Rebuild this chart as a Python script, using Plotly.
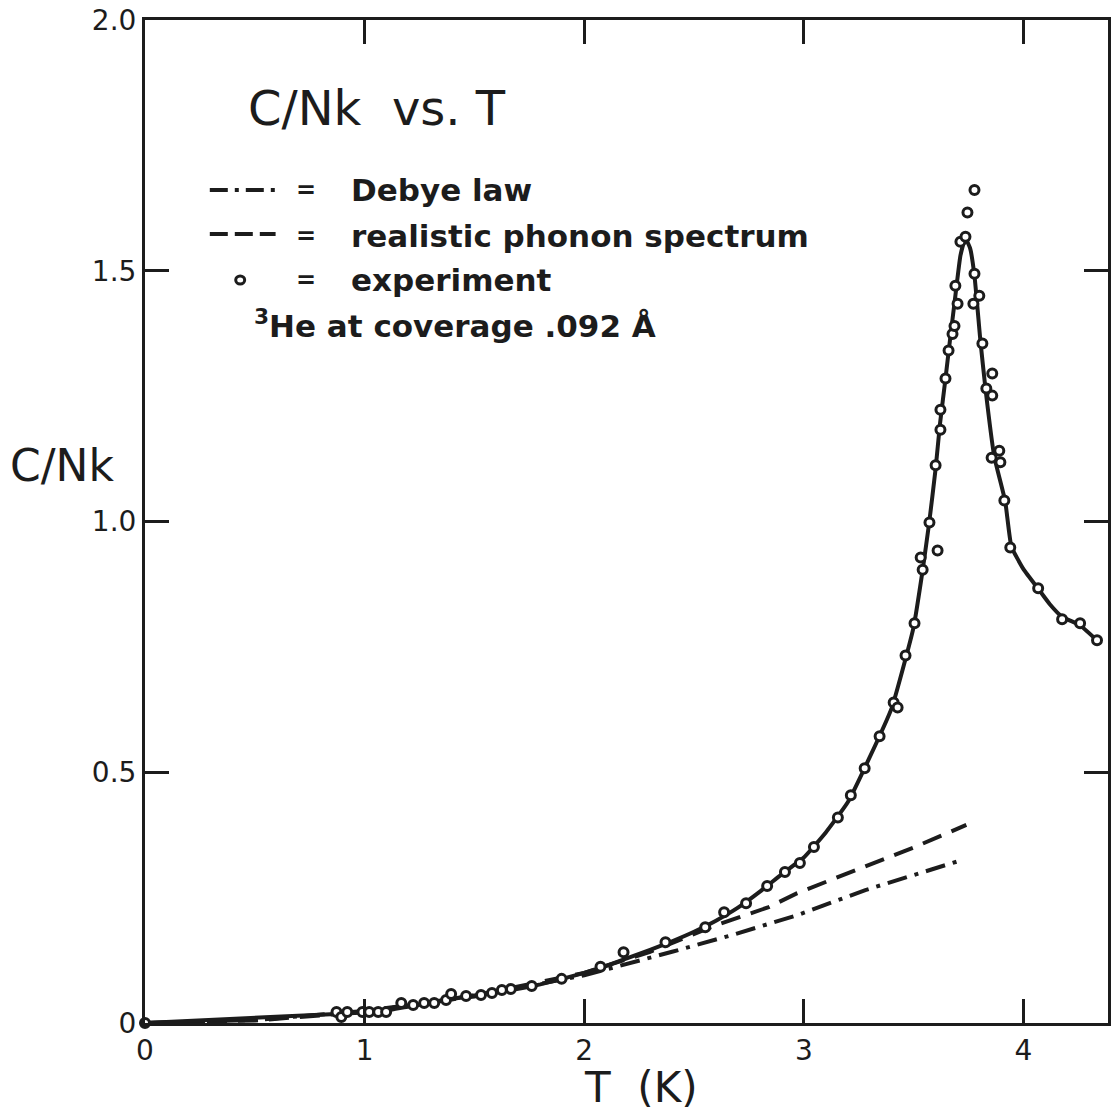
import plotly.graph_objects as go

# ---------------- data ----------------
exp_T = [0.0, 0.872, 0.894, 0.921, 0.990, 1.021, 1.062, 1.098, 1.167, 1.221,
         1.271, 1.317, 1.371, 1.394, 1.462, 1.530, 1.580, 1.625, 1.666, 1.761,
         1.897, 2.074, 2.179, 2.370, 2.551, 2.637, 2.737, 2.833, 2.914, 2.982,
         3.046, 3.155, 3.214, 3.277, 3.345, 3.409, 3.427, 3.463, 3.504, 3.532,
         3.541, 3.572, 3.609, 3.600, 3.622, 3.622, 3.645, 3.659, 3.677, 3.686,
         3.690, 3.700, 3.713, 3.736, 3.745, 3.777, 3.777, 3.772, 3.799, 3.813,
         3.831, 3.858, 3.858, 3.855, 3.890, 3.895, 3.913, 3.940, 4.067, 4.176,
         4.258, 4.335]
exp_C = [0.000, 0.022, 0.012, 0.022, 0.022, 0.022, 0.022, 0.022, 0.040, 0.036,
         0.040, 0.040, 0.046, 0.058, 0.054, 0.056, 0.060, 0.066, 0.068, 0.074,
         0.088, 0.112, 0.141, 0.161, 0.191, 0.221, 0.239, 0.273, 0.301, 0.319,
         0.351, 0.410, 0.454, 0.508, 0.572, 0.639, 0.629, 0.733, 0.797, 0.928,
         0.904, 0.998, 0.942, 1.112, 1.183, 1.223, 1.285, 1.341, 1.374, 1.390,
         1.470, 1.434, 1.558, 1.568, 1.616, 1.661, 1.494, 1.434, 1.450, 1.355,
         1.265, 1.295, 1.251, 1.127, 1.141, 1.118, 1.042, 0.948, 0.867, 0.805,
         0.797, 0.763]

fit_T = [0.0, 0.87, 1.0, 1.1, 1.2, 1.3, 1.4, 1.5, 1.6, 1.7, 1.8, 1.9, 2.0,
         2.1, 2.2, 2.3, 2.4, 2.5, 2.6, 2.7, 2.8, 2.9, 3.0, 3.1, 3.2, 3.3, 3.4,
         3.45, 3.5, 3.54, 3.57, 3.6, 3.62, 3.645, 3.665, 3.69, 3.713, 3.735,
         3.757, 3.777, 3.804, 3.827, 3.867, 3.917, 3.945, 4.0, 4.067, 4.12,
         4.176, 4.258, 4.335]
fit_C = [0.0, 0.018, 0.021, 0.025, 0.033, 0.040, 0.048, 0.055, 0.061, 0.068,
         0.077, 0.088, 0.100, 0.114, 0.130, 0.146, 0.163, 0.182, 0.204, 0.230,
         0.262, 0.297, 0.330, 0.380, 0.440, 0.530, 0.628, 0.705, 0.790, 0.900,
         0.995, 1.105, 1.195, 1.285, 1.360, 1.450, 1.530, 1.565, 1.545, 1.490,
         1.360, 1.265, 1.130, 1.040, 0.950, 0.905, 0.866, 0.835, 0.810, 0.793,
         0.763]

debye_T = [0.0, 0.5, 1.0, 1.5, 2.0, 2.2, 2.4, 2.67, 2.84, 2.97, 3.28, 3.5, 3.72]
debye_C = [0.0, 0.006, 0.024, 0.053, 0.095, 0.118, 0.142, 0.175, 0.198, 0.215,
           0.265, 0.296, 0.325]

real_T = [0.0, 0.5, 1.0, 1.5, 2.0, 2.3, 2.6, 2.84, 2.97, 3.28, 3.5, 3.74]
real_C = [0.0, 0.005, 0.022, 0.055, 0.100, 0.142, 0.195, 0.231, 0.259, 0.311,
          0.350, 0.395]

x_tickvals = [0, 1, 2, 3, 4]
x_ticktext = ["0", "1", "2", "3", "4"]
y_tickvals = [0, 0.5, 1.0, 1.5, 2.0]
y_ticktext = ["0", "0.5", "1.0", "1.5", "2.0"]

# ---------------- layout helpers ----------------
W, H = 1112, 1115
L, R, T, B = 145, 1, 20, 92
PW, PH = W - L - R, H - T - B

def px(x):
    return (x - L) / PW

def py(y):
    return (H - B - y) / PH

INK = "#1c1c1c"
FONT = "DejaVu Sans"

fig = go.Figure()

fig.add_trace(go.Scatter(x=real_T, y=real_C, mode="lines",
                         line=dict(color=INK, width=4, dash="20px,11px"),
                         showlegend=False))
fig.add_trace(go.Scatter(x=debye_T, y=debye_C, mode="lines",
                         line=dict(color=INK, width=4, dash="20px,8px,4px,8px"),
                         showlegend=False))
fig.add_trace(go.Scatter(x=fit_T, y=fit_C, mode="lines",
                         line=dict(color=INK, width=4, shape="spline", smoothing=0.4),
                         showlegend=False))
fig.add_trace(go.Scatter(x=exp_T, y=exp_C, mode="markers",
                         marker=dict(symbol="circle", size=9, color="white",
                                     line=dict(color=INK, width=3)),
                         cliponaxis=False, showlegend=False))

axis_common = dict(showline=True, linecolor=INK, linewidth=3, mirror="ticks",
                   ticks="inside", ticklen=24, tickwidth=3, tickcolor=INK,
                   showgrid=False, zeroline=False,
                   tickfont=dict(family=FONT, size=28, color=INK))

fig.update_xaxes(range=[0, 4.385], tickvals=x_tickvals, ticktext=x_ticktext,
                 **axis_common)
fig.update_yaxes(range=[0, 2.0], tickvals=y_tickvals, ticktext=y_ticktext,
                 **axis_common)

ann = []
ann.append(dict(text="C/Nk  vs. T", x=px(246), y=py(108), xanchor="left",
                yanchor="middle", font=dict(family=FONT, size=48, color=INK)))
legend_rows = [("Debye law", 190), ("realistic phonon spectrum", 236),
               ("experiment", 280)]
for txt, yy in legend_rows:
    ann.append(dict(text="<b>=</b>", x=px(307), y=py(yy), xanchor="center",
                    yanchor="middle", font=dict(family=FONT, size=24, color=INK)))
    ann.append(dict(text="<b>" + txt + "</b>", x=px(350), y=py(yy),
                    xanchor="left", yanchor="middle",
                    font=dict(family=FONT, size=31, color=INK)))
ann.append(dict(text="<b><sup>3</sup>He at coverage .092 Å</b>", x=px(252),
                y=py(324), xanchor="left", yanchor="middle",
                font=dict(family=FONT, size=31, color=INK)))
ann.append(dict(text="C/Nk", x=px(62), y=py(465), xanchor="center",
                yanchor="middle", font=dict(family=FONT, size=44, color=INK)))
ann.append(dict(text="T  (K)", x=px(643), y=py(1087), xanchor="center",
                yanchor="middle", font=dict(family=FONT, size=42, color=INK)))
for a in ann:
    a.update(xref="paper", yref="paper", showarrow=False)

shapes = [
    dict(type="line", xref="paper", yref="paper", x0=px(210), x1=px(276),
         y0=py(190), y1=py(190),
         line=dict(color=INK, width=4, dash="18px,7px,4px,7px")),
    dict(type="line", xref="paper", yref="paper", x0=px(210), x1=px(276),
         y0=py(234), y1=py(234),
         line=dict(color=INK, width=4, dash="18px,7px")),
    dict(type="circle", xref="paper", yref="paper", x0=px(236), x1=px(245),
         y0=py(284), y1=py(276), line=dict(color=INK, width=3),
         fillcolor="white"),
]

fig.update_layout(width=W, height=H, margin=dict(l=L, r=R, t=T, b=B),
                  plot_bgcolor="white", paper_bgcolor="white",
                  annotations=ann, shapes=shapes, showlegend=False)

fig.write_html("out.html")
